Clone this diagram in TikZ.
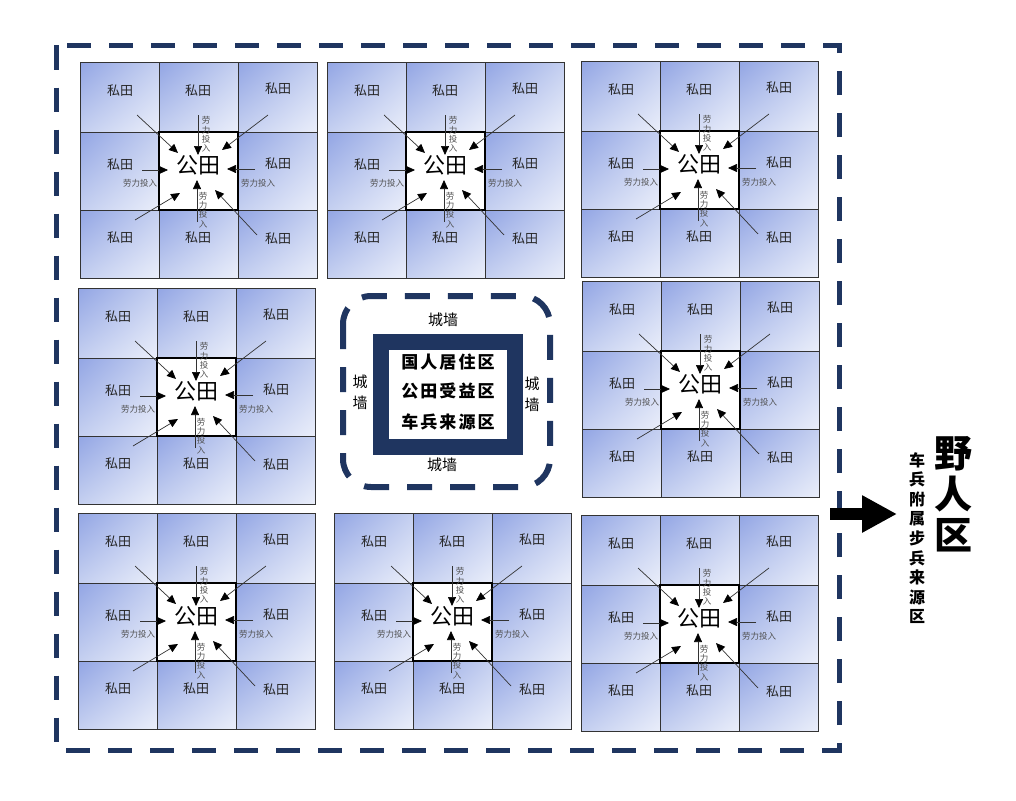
\documentclass[tikz,border=0pt]{standalone}
\usepackage{fontspec}
\setmainfont{Noto Sans CJK SC}
\newfontfamily\cjkwide[LetterSpace=12]{Noto Sans CJK SC}
\usetikzlibrary{arrows.meta,shadings}
\definecolor{navy}{HTML}{1F3560}
\definecolor{fA}{RGB}{146,165,228}
\definecolor{fB}{RGB}{196,207,240}
\definecolor{fC}{RGB}{234,238,250}
\definecolor{lbl}{HTML}{505050}
\tikzset{
  cell/.style={upper left=fA, upper right=fB, lower left=fB, lower right=fC, draw=black!80, line width=0.8pt},
  pub/.style={fill=white, draw=black, line width=1.6pt},
  sitian/.style={font=\fontsize{13}{14}\selectfont, text=black!85, inner sep=0pt},
  gongtian/.style={font=\fontsize{22}{24}\selectfont, inner sep=0pt},
  labor/.style={draw=black!80, line width=0.7pt, -{Triangle[length=9pt,width=8pt,fill=black,color=black]}},
  lab/.style={font=\fontsize{8.5}{9}\selectfont, text=lbl, inner sep=0pt},
  vlab/.style={lab, align=center, font=\fontsize{8.5}{9.3}\selectfont},
  wall/.style={font=\fontsize{15}{21}\selectfont, inner sep=0pt, align=center},
}
\newcommand\fblock[3]{%
\begin{scope}[shift={(#2,#3)}]
  \foreach \x in {0,79,158}{
    \foreach \y/\h in {0/70,70/78,148/68}{
      \shadedraw[cell] (\x,\y) rectangle ++(79,\h);
    }}
  \draw[pub] (79,70) rectangle (158,148);
  \node[sitian] (#1-p1) at (40,29) {私田};
  \node[sitian] (#1-p2) at (118,29) {私田};
  \node[sitian] (#1-p3) at (198,27) {私田};
  \node[sitian] (#1-p4) at (40,103) {私田};
  \node[sitian] (#1-p6) at (198,102) {私田};
  \node[sitian] (#1-p7) at (40,176) {私田};
  \node[sitian] (#1-p8) at (118,176) {私田};
  \node[sitian] (#1-p9) at (198,177) {私田};
  \node[gongtian] (#1-g) at (118,103) {公田};
  \coordinate (#1-a1) at (57,53);   \coordinate (#1-b1) at (98,91);
  \coordinate (#1-a3) at (188,53);  \coordinate (#1-b3) at (142,88);
  \coordinate (#1-a7) at (55,158);  \coordinate (#1-b7) at (100,131);
  \coordinate (#1-a9) at (177,173); \coordinate (#1-b9) at (135,128);
  \coordinate (#1-a2) at (118,53);  \coordinate (#1-b2) at (118,93);
  \coordinate (#1-a8) at (117,160); \coordinate (#1-b8) at (117,118);
  \coordinate (#1-a4) at (62,108);  \coordinate (#1-b4) at (88,108);
  \coordinate (#1-a6) at (175,107); \coordinate (#1-b6) at (147,107);
  \foreach \k in {1,2,3,4,6,7,8,9}{\draw[labor] (#1-a\k) -- (#1-b\k);}
  \node[vlab] (#1-l2) at (126,72.5) {劳\\力\\投\\入};
  \node[vlab] (#1-l8) at (123,148) {劳\\力\\投\\入};
  \node[lab] (#1-l4) at (60,121) {劳力投入};
  \node[lab] (#1-l6) at (178,121) {劳力投入};
\end{scope}}
\begin{document}
\begin{tikzpicture}[x=1pt,y=-1pt]
\useasboundingbox (0,0) rectangle (1016,800);
\fill[white] (0,0) rectangle (1016,800);
% outer dashed boundary
\draw[navy, line width=5pt, dash pattern=on 24pt off 18pt] (56.5,45.5) rectangle (839,750);
% field blocks
\fblock{A}{80}{62}
\fblock{B}{327}{62}
\fblock{C}{581}{61}
\fblock{D}{78}{288}
\fblock{E}{582}{281}
\fblock{F}{78}{513}
\fblock{G}{334}{513}
\fblock{H}{581}{515}
% center
\draw[navy, line width=6pt, rounded corners=28pt, dash pattern=on 25pt off 18pt] (343,296) rectangle (550,487);
\draw[navy, line width=16pt, fill=white] (381,342) rectangle (515,447);
\node[font=\cjkwide\bfseries\fontsize{17}{18}\selectfont, inner sep=0pt] (c1) at (448,362) {国人居住区};
\node[font=\cjkwide\bfseries\fontsize{17}{18}\selectfont, inner sep=0pt] (c2) at (448,391) {公田受益区};
\node[font=\cjkwide\bfseries\fontsize{17}{18}\selectfont, inner sep=0pt] (c3) at (448,422) {车兵来源区};
\node[wall] (w1) at (443,320) {城墙};
\node[wall] (w2) at (442,465) {城墙};
\node[wall] (w3) at (360,392) {城\\墙};
\node[wall] (w4) at (532,394) {城\\墙};
% arrow to outer area
\coordinate (arS) at (830,514);
\coordinate (arE) at (897,514);
\draw[line width=12pt, -{Triangle[length=35pt,width=35pt]}] (arS) -- (arE);
\node[font=\bfseries\fontsize{38}{41}\selectfont, align=center, inner sep=0pt] (yr) at (953,494) {野\\人\\区};
\node[font=\bfseries\fontsize{16}{19.6}\selectfont, align=center, inner sep=0pt] (yb) at (917,538) {车\\兵\\附\\属\\步\\兵\\来\\源\\区};
\end{tikzpicture}
\end{document}
